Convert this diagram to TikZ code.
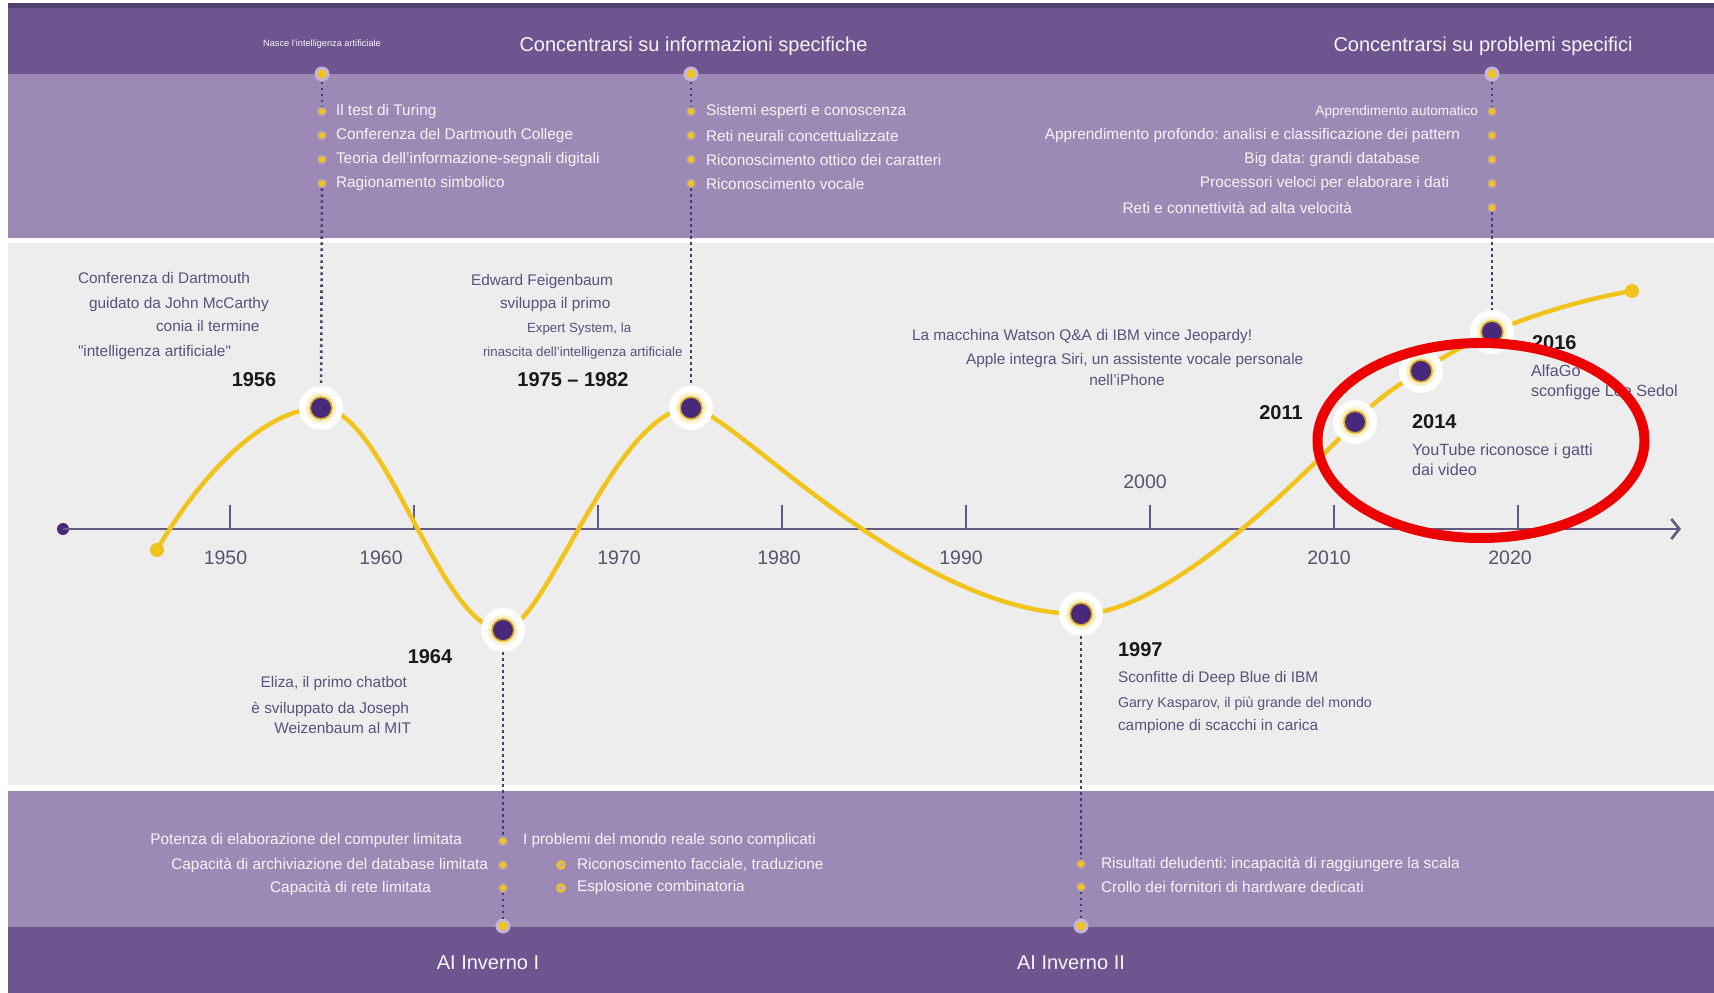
\documentclass[tikz,border=0pt]{standalone}
\usepackage{fontspec}
\setmainfont{Liberation Sans}
\usetikzlibrary{arrows.meta}
\frenchspacing

\definecolor{darkband}{RGB}{111,85,143}
\definecolor{topline}{RGB}{82,64,112}
\definecolor{lightband}{RGB}{157,137,181}
\definecolor{greybg}{RGB}{237,237,237}
\definecolor{bandfg}{RGB}{247,244,251}
\definecolor{evfg}{RGB}{92,80,125}
\definecolor{axfg}{RGB}{88,82,110}
\definecolor{axcol}{RGB}{98,88,128}
\definecolor{curveyellow}{RGB}{240,196,28}
\definecolor{nodepurple}{RGB}{72,40,122}
\definecolor{guidecol}{RGB}{78,60,112}
\definecolor{bulletglow}{RGB}{190,165,160}
\definecolor{portglow}{RGB}{196,180,218}
\definecolor{ringfill}{RGB}{190,175,160}
\definecolor{markred}{RGB}{236,0,0}

\begin{document}
\begin{tikzpicture}[x=1pt,y=-1pt,
  txt/.style={inner sep=0pt,outer sep=0pt},
  bandtxt/.style={txt,text=bandfg,font=\fontsize{15.4}{18}\selectfont},
  bandsmall/.style={txt,text=bandfg,font=\fontsize{13.6}{16}\selectfont},
  headtxt/.style={txt,text=bandfg,font=\fontsize{20}{24}\selectfont},
  tinytxt/.style={txt,text=bandfg,font=\fontsize{9.2}{11}\selectfont},
  evtxt/.style={txt,text=evfg,font=\fontsize{15.4}{18}\selectfont},
  evsmall/.style={txt,text=evfg,font=\fontsize{13.3}{16}\selectfont},
  evmid/.style={txt,text=evfg,font=\fontsize{14.2}{17}\selectfont},
  evlarge/.style={txt,text=evfg,font=\fontsize{16.2}{19}\selectfont},
  yearlbl/.style={txt,text=black!90,font=\fontsize{20}{24}\selectfont\bfseries},
  axlbl/.style={txt,text=axfg,font=\fontsize{19.5}{23}\selectfont},
  bulletdot/.style={circle,inner sep=0pt,minimum size=8pt,fill=curveyellow,draw=bulletglow,line width=1.4pt},
  ringdot/.style={circle,inner sep=0pt,minimum size=7.5pt,fill=ringfill,draw=curveyellow,line width=2pt},
  portdot/.style={circle,inner sep=0pt,minimum size=12pt,fill=curveyellow,draw=portglow,line width=3pt},
  evhalo/.style={circle,inner sep=0pt,minimum size=44pt,fill=white},
  enddot/.style={circle,inner sep=0pt,minimum size=14pt,fill=curveyellow},
  axdot/.style={circle,inner sep=0pt,minimum size=12pt,fill=nodepurple},
  guide/.style={draw=guidecol,line width=2.6pt,dash pattern=on 2.6pt off 3.4pt},
  curve/.style={draw=curveyellow,line width=4.5pt},
  axisline/.style={draw=axcol,line width=2.6pt},
  tickline/.style={draw=axcol,line width=2pt}]

\useasboundingbox (0,0) rectangle (1714,993);

% background bands
\fill[white] (0,0) rectangle (1714,993);
\fill[topline] (8,3) rectangle (1714,8);
\fill[darkband] (8,8) rectangle (1714,74);
\fill[lightband] (8,74) rectangle (1714,238);
\fill[greybg] (8,243) rectangle (1714,785);
\fill[lightband] (8,791) rectangle (1714,927);
\fill[darkband] (8,927) rectangle (1714,993);

% headers
\node[tinytxt] (hNasce) at (322,44) {Nasce l'intelligenza artificiale};
\node[headtxt] (hInfo) at (693.5,46) {Concentrarsi su informazioni specifiche};
\node[headtxt] (hProb) at (1483,46) {Concentrarsi su problemi specifici};
\node[headtxt] (hW1) at (488,963) {AI Inverno I};
\node[headtxt] (hW2) at (1071,963) {AI Inverno II};

% time axis
\node[axdot] (a0) at (63,529) {};
\coordinate (a1) at (1681,529);
\draw[axisline,-{Straight Barb[length=8pt,width=20pt]}] (a0.center) -- (a1);
\foreach \i in {0,...,7}{
  \draw[tickline] (229.5+184*\i,505) -- (229.5+184*\i,529);
}
\node[axlbl] (y1950) at (225.5,558) {1950};
\node[axlbl] (y1960) at (381,558) {1960};
\node[axlbl] (y1970) at (619,558) {1970};
\node[axlbl] (y1980) at (779,558) {1980};
\node[axlbl] (y1990) at (961,558) {1990};
\node[axlbl] (y2000) at (1145,482) {2000};
\node[axlbl] (y2010) at (1329,558) {2010};
\node[axlbl] (y2020) at (1510,558) {2020};

% milestone positions on the curve
\coordinate (st) at (157,550);
\coordinate (e56) at (321,408);
\coordinate (e64) at (503,630);
\coordinate (e75) at (691,408);
\coordinate (e97) at (1081,614);
\coordinate (e11) at (1355,422);
\coordinate (e14) at (1421,371);
\coordinate (e16) at (1492,332);
\coordinate (en) at (1632,291);

% the hype curve
\draw[curve] (st) .. controls (200,475) and (265,408) .. (e56)
  .. controls (385,408) and (440,630) .. (e64)
  .. controls (545,630) and (615,408) .. (e75)
  .. controls (730,408) and (910,614) .. (e97)
  .. controls (1170,614) and (1315,464) .. (e11)
  .. controls (1378,398) and (1398,385) .. (e14)
  .. controls (1445,356) and (1468,343) .. (e16)
  .. controls (1540,312) and (1590,298) .. (en);
\node[enddot] (sdot) at (st) {};
\node[enddot] (edot) at (en) {};

% band ports
\node[portdot] (p56) at (322,74) {};
\node[portdot] (p75) at (691,74) {};
\node[portdot] (p16) at (1492,74) {};
\node[portdot] (q64) at (503,926) {};
\node[portdot] (q97) at (1081,926) {};

% bullets of the upper lists
\foreach \n/\y in {a/111.5,b/135.5,c/159.6,d/183.6}{
  \node[bulletdot] (b56\n) at (322,\y) {};
  \node[bulletdot] (b75\n) at (691,\y) {};
}
\foreach \n/\y in {a/111.5,b/135.5,c/159.6,d/183.6,e/207.7}{
  \node[bulletdot] (b16\n) at (1492,\y) {};
}
% bullets of the lower lists
\node[bulletdot] (b64a) at (503,841) {};
\node[bulletdot] (b64b) at (503,865) {};
\node[bulletdot] (b64c) at (503,888) {};
\node[ringdot] (r64a) at (561,865) {};
\node[ringdot] (r64b) at (561,888) {};
\node[bulletdot] (b97a) at (1081,864) {};
\node[bulletdot] (b97b) at (1081,887) {};

% milestone markers
\foreach \m in {e56,e64,e75,e97,e11,e14,e16}{
  \node[evhalo] (h\m) at (\m) {};
}

% dotted guides
\draw[guide] (p56) -- (b56a);
\draw[guide] (b56d) -- (he56);
\draw[guide] (p75) -- (b75a);
\draw[guide] (b75d) -- (he75);
\draw[guide] (p16) -- (b16a);
\draw[guide] (b16e) -- (he16);
\draw[guide] (he64) -- (b64a);
\draw[guide] (b64c) -- (q64);
\draw[guide] (he97) -- (b97a);
\draw[guide] (b97b) -- (q97);

\foreach \m in {e56,e64,e75,e97,e11,e14,e16}{
  \fill[curveyellow,opacity=.25] (\m) circle (15pt);
  \fill[curveyellow!85!nodepurple] (\m) circle (11.8pt);
  \fill[nodepurple] (\m) circle (10pt);
}

% upper lists
\node[bandtxt,anchor=west] (l56a) at (336,111.5) {Il test di Turing};
\node[bandtxt,anchor=west] (l56b) at (336,135.5) {Conferenza del Dartmouth College};
\node[bandtxt,anchor=west] (l56c) at (336,159.6) {Teoria dell'informazione-segnali digitali};
\node[bandtxt,anchor=west] (l56d) at (336,183.6) {Ragionamento simbolico};

\node[bandtxt,anchor=west] (l75a) at (706,111.5) {Sistemi esperti e conoscenza};
\node[bandtxt,anchor=west] (l75b) at (706,135.5) {Reti neurali concettualizzate};
\node[bandtxt,anchor=west] (l75c) at (706,159.6) {Riconoscimento ottico dei caratteri};
\node[bandtxt,anchor=west] (l75d) at (706,183.6) {Riconoscimento vocale};

\node[bandsmall,anchor=east] (l16a) at (1478,111.5) {Apprendimento automatico};
\node[bandtxt,anchor=east] (l16b) at (1460,135.5) {Apprendimento profondo: analisi e classificazione dei pattern};
\node[bandtxt,anchor=east] (l16c) at (1420,159.6) {Big data: grandi database};
\node[bandtxt,anchor=east] (l16d) at (1449,183.6) {Processori veloci per elaborare i dati};
\node[bandtxt,anchor=east] (l16e) at (1352,207.7) {Reti e connettività ad alta velocità};

% lower lists
\node[bandtxt,anchor=east] (l64a) at (462,841) {Potenza di elaborazione del computer limitata};
\node[bandtxt,anchor=east] (l64b) at (488,865) {Capacità di archiviazione del database limitata};
\node[bandtxt,anchor=east] (l64c) at (431,888) {Capacità di rete limitata};
\node[bandtxt,anchor=west] (l64d) at (523,841) {I problemi del mondo reale sono complicati};
\node[bandtxt,anchor=west] (l64e) at (577,865) {Riconoscimento facciale, traduzione};
\node[bandtxt,anchor=west] (l64f) at (577,888) {Esplosione combinatoria};

\node[bandtxt,anchor=west] (l97a) at (1101,864) {Risultati deludenti: incapacità di raggiungere la scala};
\node[bandtxt,anchor=west] (l97b) at (1101,887) {Crollo dei fornitori di hardware dedicati};

% milestone captions
\node[evtxt,anchor=west] (c56a) at (78,278) {Conferenza di Dartmouth};
\node[evtxt,anchor=west] (c56b) at (89,305) {guidato da John McCarthy};
\node[evtxt,anchor=west] (c56c) at (156,326) {conia il termine};
\node[evtxt,anchor=west] (c56d) at (78,353) {\textquotedbl intelligenza artificiale\textquotedbl};
\node[yearlbl] (t56) at (254,380) {1956};

\node[evtxt,anchor=west] (c75a) at (471,282) {Edward Feigenbaum};
\node[evtxt,anchor=west] (c75b) at (500,305) {sviluppa il primo};
\node[evsmall,anchor=west] (c75c) at (527,329) {Expert System, la};
\node[evsmall,anchor=west] (c75d) at (483,353) {rinascita dell'intelligenza artificiale};
\node[yearlbl] (t75) at (573,380) {1975 – 1982};

\node[yearlbl] (t64) at (430,657) {1964};
\node[evtxt,anchor=east] (c64a) at (407,684) {Eliza, il primo chatbot};
\node[evtxt,anchor=east] (c64b) at (409,709) {è sviluppato da Joseph};
\node[evtxt,anchor=east] (c64c) at (411,728) {Weizenbaum al MIT};

\node[yearlbl,anchor=west] (t97) at (1118,650) {1997};
\node[evtxt,anchor=west] (c97a) at (1118,679) {Sconfitte di Deep Blue di IBM};
\node[evmid,anchor=west] (c97b) at (1118,704) {Garry Kasparov, il più grande del mondo};
\node[evtxt,anchor=west] (c97c) at (1118,727) {campione di scacchi in carica};

\node[evtxt,anchor=west] (c11a) at (912,337) {La macchina Watson Q\&A di IBM vince Jeopardy!};
\node[evtxt,anchor=west] (c11b) at (966,361) {Apple integra Siri, un assistente vocale personale};
\node[evtxt] (c11c) at (1127,380) {nell'iPhone};
\node[yearlbl] (t11) at (1281,413) {2011};

\node[yearlbl,anchor=west] (t14) at (1412,422) {2014};
\node[evlarge,anchor=west] (c14a) at (1412,451) {YouTube riconosce i gatti};
\node[evlarge,anchor=west] (c14b) at (1412,470) {dai video};

\node[yearlbl,anchor=west] (t16) at (1532,343) {2016};
\node[evlarge,anchor=west] (c16a) at (1531,371) {AlfaGo};
\node[evlarge,anchor=west] (c16b) at (1531,392) {sconfigge Lee Sedol};

% red highlight ring
\draw[markred,line width=10pt] (1481,440.5) ellipse [x radius=163.5pt, y radius=97.5pt];

\end{tikzpicture}
\end{document}
